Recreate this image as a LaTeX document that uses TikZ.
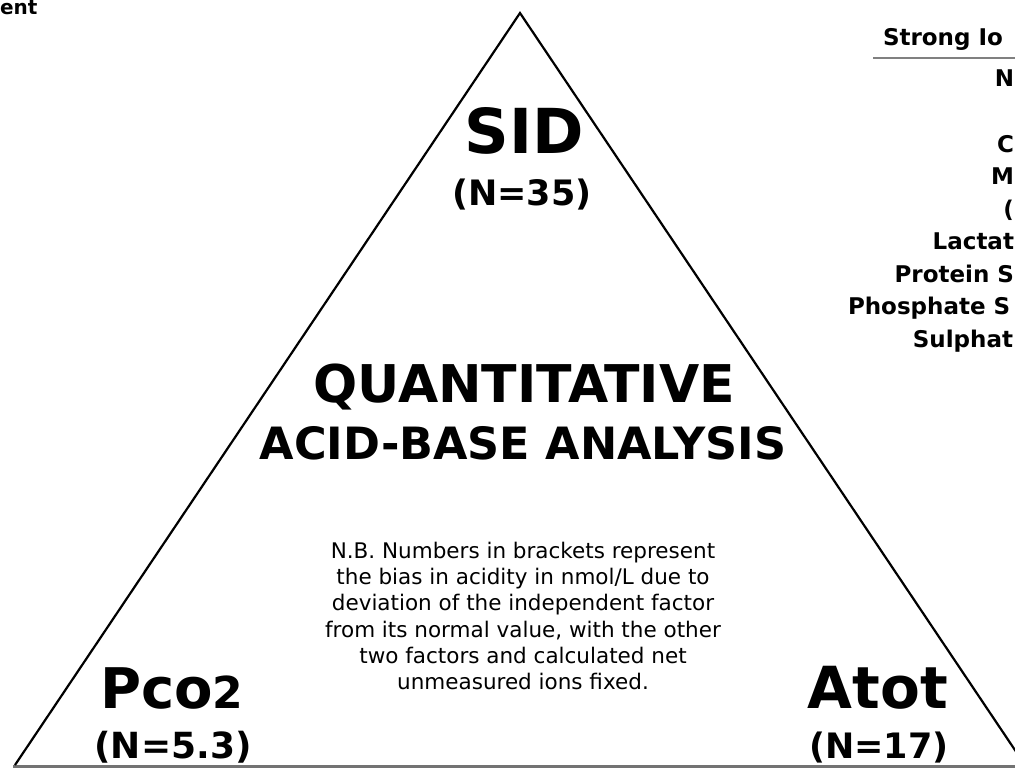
\documentclass[tikz,border=0pt]{standalone}
\usepackage{fontspec}
\setmainfont{DejaVu Sans}
\newcommand\fsz[1]{\fontsize{#1}{#1}\selectfont}
\begin{document}
\begin{tikzpicture}[x=1pt,y=-1pt,
  txt/.style={inner sep=0pt, outer sep=0pt, text=black},
  boldtxt/.style={txt, font=\bfseries},
  listtxt/.style={boldtxt, anchor=base west, font=\bfseries\fsz{23}},
  edgetxt/.style={boldtxt, anchor=base east, font=\bfseries\fsz{23}},
  sidestroke/.style={draw=black, line width=2.2pt, line join=miter},
  basestroke/.style={draw=black!55, line width=3pt},
  rulestroke/.style={draw=black!50, line width=2.6pt}]
\useasboundingbox (0,0) rectangle (1015,768);
\fill[white] (0,0) rectangle (1015,768);

% triangle
\coordinate (apex) at (520,13);
\coordinate (bl) at (15,765);
\coordinate (br) at (1025,765);
\coordinate (be) at (1015,766);
\coordinate (bs) at (13,766);
\draw[basestroke] (bs) -- (be);
\draw[sidestroke] (bl) -- (apex) -- (br);

% cut-off word at top left
\node[boldtxt, anchor=base west, font=\bfseries\fsz{20}] (ent) at (0,15) {ent};

% strong ions list (cut off at the right edge)
\node[listtxt] (hdr) at (883,46) {Strong Io};
\coordinate (ruleL) at (873,58);
\coordinate (ruleR) at (1015,58);
\draw[rulestroke] (ruleL) -- (ruleR);
\node[edgetxt] (na) at (1014,87) {N};
\node[edgetxt] (ca) at (1014,152) {C};
\node[edgetxt] (mg) at (1014,184.5) {M};
\node[edgetxt] (cl) at (1014,217) {(};
\node[edgetxt] (lac) at (1014,249.5) {Lactat};
\node[edgetxt] (prot) at (1014,282) {Protein S};
\node[listtxt] (phos) at (848,314.5) {Phosphate S};
\node[edgetxt] (sulph) at (1013,347) {Sulphat};

% triangle labels
\node[boldtxt, anchor=base, font=\bfseries\fsz{62}] (sid) at (524,153) {SID};
\node[boldtxt, anchor=base, font=\bfseries\fsz{35}] (sidn) at (522,205) {(N=35)};
\node[boldtxt, anchor=base, font=\bfseries\fsz{52}] (quant) at (524,402) {QUANTITATIVE};
\node[boldtxt, anchor=base, font=\bfseries\fsz{44.5}] (acid) at (523,459) {ACID-BASE ANALYSIS};

\node[txt, anchor=north, align=center, font=\fontsize{21.5}{26.3}\selectfont] (note) at (523,542)
 {N.B. Numbers in brackets represent\\
  the bias in acidity in nmol/L due to\\
  deviation of the independent factor\\
  from its normal value, with the other\\
  two factors and calculated net\\
  unmeasured ions fixed.};

\node[boldtxt, anchor=base west, font=\bfseries\fsz{56}] (pco) at (100,708) {Pco{\fsz{44}2}};
\node[boldtxt, anchor=base, font=\bfseries\fsz{36}] (pcon) at (173,758) {(N=5.3)};
\node[boldtxt, anchor=base, font=\bfseries\fsz{58}] (atot) at (878,708) {Atot};
\node[boldtxt, anchor=base, font=\bfseries\fsz{35}] (atotn) at (879,758) {(N=17)};
\end{tikzpicture}
\end{document}
